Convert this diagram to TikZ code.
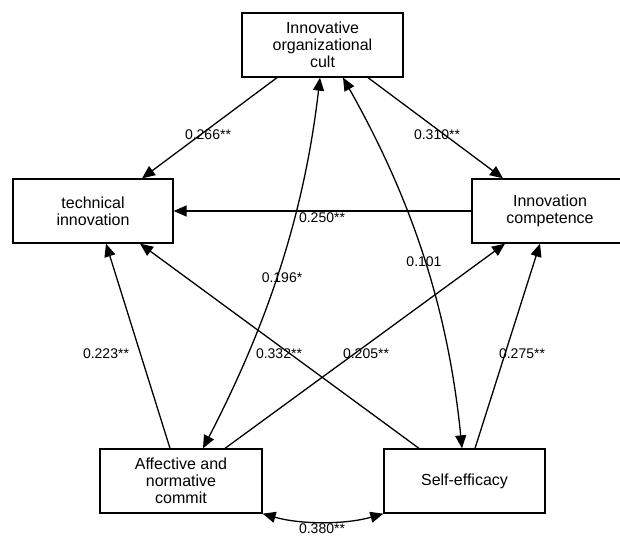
\documentclass[tikz,border=0pt]{standalone}
\usepackage{fontspec}
\setmainfont{Liberation Sans}
\usetikzlibrary{arrows.meta}
\begin{document}
\begin{tikzpicture}[x=1pt,y=-1pt,
  box/.style={draw,line width=1.3pt,rectangle,inner sep=0pt,align=center,
    font=\fontsize{16}{17}\selectfont},
  conn/.style={line width=1.3pt,-{Triangle[length=13pt,width=11pt]}},
  both/.style={line width=1.3pt,{Triangle[length=13pt,width=11pt]}-{Triangle[length=13pt,width=11pt]}},
  lab/.style={font=\fontsize{14}{15}\selectfont,inner sep=0pt}]
\clip (0,0) rectangle (620,537);
\fill[white] (0,0) rectangle (620,537);
% boxes
\node[box,minimum width=161pt,minimum height=64pt] (top) at (322.5,45) {Innovative\\organizational\\cult};
\node[box,minimum width=160pt,minimum height=64pt] (tech) at (93,211) {technical\\innovation};
\node[box,minimum width=159pt,minimum height=64pt] (comp) at (551.5,211) {\hspace*{-3pt}Innovation\\\hspace*{-3pt}competence};
\node[box,minimum width=162pt,minimum height=64pt] (aff) at (181,481) {Affective and\\normative\\commit};
\node[box,minimum width=161pt,minimum height=64pt] (self) at (464.5,481) {Self-efficacy};
% connectors
\draw[conn] ([xshift=-45.5pt]top.south) -- ([xshift=49pt]tech.north);
\draw[conn] ([xshift=45.5pt]top.south) -- ([xshift=-48.5pt]comp.north);
\draw[conn] (comp.west) -- (tech.east);
\draw[both] ([xshift=22pt]aff.north) .. controls +(68,-131) and +(-15,130) .. ([xshift=-2.5pt]top.south);
\draw[both] ([xshift=20.5pt]top.south) .. controls +(74,131) and +(-13,-130) .. ([xshift=-2.5pt]self.north);
\draw[conn] ([xshift=-45.5pt]self.north) -- ([xshift=47pt]tech.south);
\draw[conn] ([xshift=44pt]aff.north) -- ([xshift=-46.5pt]comp.south);
\draw[conn] ([xshift=-11pt]aff.north) -- ([xshift=13pt]tech.south);
\draw[conn] ([xshift=10.5pt]self.north) -- ([xshift=-11.5pt]comp.south);
\draw[both] (aff.south east) .. controls +(38,11) and +(-38,11) .. (self.south west);
% labels
\node[lab] (l1) at (208,135) {0.266**};
\node[lab] (l2) at (437,135) {0.310**};
\node[lab] (l3) at (322,218) {0.250**};
\node[lab] (l4) at (282,278) {0.196*};
\node[lab] (l5) at (424,262) {0.101};
\node[lab] (l6) at (279,354) {0.332**};
\node[lab] (l7) at (366,354) {0.205**};
\node[lab] (l8) at (106,354) {0.223**};
\node[lab] (l9) at (522,354) {0.275**};
\node[lab] (l10) at (322,529) {0.380**};
\end{tikzpicture}
\end{document}
